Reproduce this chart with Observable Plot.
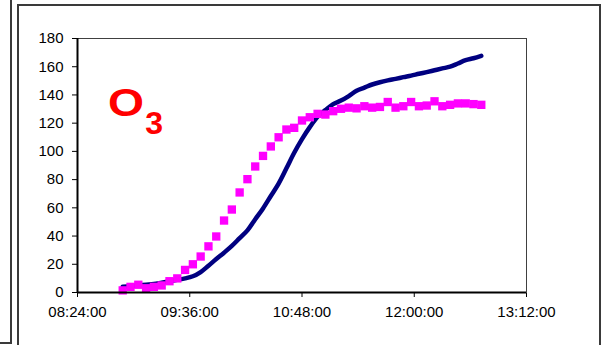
<!DOCTYPE html>
<html><head><meta charset="utf-8">
<script src="https://cdn.jsdelivr.net/npm/d3@7"></script>
<script src="https://cdn.jsdelivr.net/npm/@observablehq/plot@0.6"></script>
<style>
html,body{margin:0;padding:0;background:#fff;width:605px;height:345px;overflow:hidden;position:relative;font-family:"Liberation Sans",Arial,sans-serif;}
#chart{position:absolute;left:0;top:0;}
.bx{position:absolute;box-sizing:border-box;border:2px solid #3a3a3a;pointer-events:none;}
</style></head><body>
<div id="chart"></div>
<div class="bx" style="left:-10px;top:-10px;width:22px;height:354px"></div>
<div class="bx" style="left:17px;top:4px;width:584px;height:400px"></div>
<script>
const times = ["08:53","08:58","09:03","09:08","09:13","09:18","09:23","09:28","09:33","09:38",
  "09:43","09:48","09:53","09:58","10:03","10:08","10:13","10:18","10:23","10:28",
  "10:33","10:38","10:43","10:48","10:53","10:58","11:03","11:08","11:13","11:18",
  "11:23","11:28","11:33","11:38","11:43","11:48","11:53","11:58","12:03","12:08",
  "12:13","12:18","12:23","12:28","12:33","12:38","12:43"];
const o3Measured = [1.5,4,5.5,3,4,5,8,10,16,20,
  25.5,32.7,39.7,51,58.8,70.9,80.3,89.3,96.8,103.5,
  110,115.5,116.7,121.9,124.2,126.6,126.1,128.5,130.2,131,
  130.5,132,131,131.5,135,131,132,135,132,132.5,
  135.5,132,133,134,134,133.5,133];
const o3Model = [4,4.5,5,5.5,6,7,8,9,10,11.5,
  14.5,19,23.7,28.2,33,38.5,44,51.9,59.6,68.4,
  77.2,88,99,108.7,117.2,124.5,129.3,133.5,136,139.2,
  143,145.2,147.4,149,150.3,151.4,152.6,153.7,155,156.2,
  157.5,158.8,160,162.3,164.6,166,167.7];
const xTickLabels = ["08:24:00","09:36:00","10:48:00","12:00:00","13:12:00"];
const yTicks = [0,20,40,60,80,100,120,140,160,180];
const labelMain = "O";
const labelSub = "3";

const parse = s => new Date(`2000-01-01T${s.length === 5 ? s + ":00" : s}Z`);
const data = times.map((t, i) => ({t: parse(t), measured: o3Measured[i], model: o3Model[i]}));
const xt = xTickLabels.map(parse);

const plot = Plot.plot({
  width: 605, height: 345,
  marginLeft: 77, marginRight: 79, marginTop: 38, marginBottom: 53,
  style: {fontFamily: '"Liberation Sans", Arial, sans-serif', fontSize: "15px", color: "#000", background: "transparent", overflow: "visible"},
  x: {type: "utc", domain: [xt[0], xt[xt.length - 1]], ticks: xt, tickFormat: d3.utcFormat("%H:%M:%S"), tickSize: 5, tickPadding: 9, label: null},
  y: {domain: [0, 180], ticks: yTicks, tickSize: 5, tickPadding: 9, label: null},
  marks: [
    Plot.frame({stroke: "#404040", strokeWidth: 1}),
    Plot.line(data, {x: "t", y: "model", stroke: "#000080", strokeWidth: 4.5, strokeLinecap: "round", strokeLinejoin: "round", curve: "catmull-rom"}),
    Plot.dot(data, {x: "t", y: "measured", symbol: "square", r: 4.7, fill: "#ff00ff", stroke: "none"}),
    Plot.ruleX([xt[0]], {stroke: "#000", strokeWidth: 2}),
    Plot.ruleY([0], {stroke: "#000", strokeWidth: 2}),
    Plot.text([labelMain], {text: d => d, frameAnchor: "top-left", textAnchor: "start", lineAnchor: "middle", dx: 30.5, dy: 65.3, fontSize: 38, fontWeight: "bold", fill: "#ff0000"}),
    Plot.text([labelSub], {text: d => d, frameAnchor: "top-left", textAnchor: "start", lineAnchor: "middle", dx: 67.7, dy: 84.8, fontSize: 32, fontWeight: "bold", fill: "#ff0000"})
  ]
});
d3.select(plot).selectAll("text").filter(function() { return this.textContent === labelMain; })
  .attr("textLength", 36).attr("lengthAdjust", "spacingAndGlyphs");
document.getElementById("chart").appendChild(plot);
</script>
</body></html>
